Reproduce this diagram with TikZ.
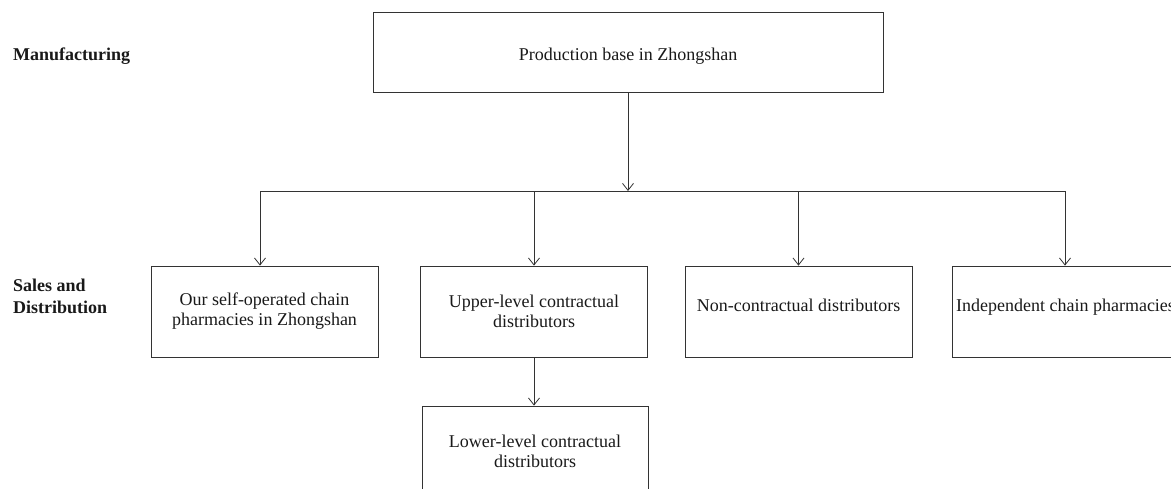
\documentclass[tikz,border=0pt]{standalone}
\usepackage{fontspec}
\setmainfont{Liberation Serif}
\usetikzlibrary{arrows.meta}
\begin{document}
\begin{tikzpicture}[x=1pt,y=-1pt,
  box/.style={draw=black!80, line width=0.8pt, minimum width=227pt, minimum height=91pt,
    inner sep=0pt, align=center, font=\fontsize{18}{20}\selectfont, text=black!90},
  lbl/.style={font=\fontsize{18}{22}\selectfont\bfseries, align=left, inner sep=0pt, text=black!90},
  arr/.style={draw=black!80, line width=0.8pt, -{Straight Barb[length=7pt,width=11pt]}},
  ln/.style={draw=black!80, line width=0.8pt}]
\useasboundingbox (0,0) rectangle (1171,488);
\clip (0,0) rectangle (1171,488);

\node[lbl, anchor=base west] (manu) at (13,60) {Manufacturing};
\node[lbl, anchor=north west] (sales) at (13,279) {Sales and\\Distribution};

\node[box, minimum width=510pt, minimum height=80pt, text height=20pt, text depth=4pt] (prod) at (628,52) {Production base in Zhongshan};

\node[box] (b1) at (264.5,311.5) {Our self-operated chain\\pharmacies in Zhongshan};
\node[box] (b2) at (534,311.5) {Upper-level contractual\\distributors};
\node[box, text height=6pt, text depth=6pt] (b3) at (798.5,311.5) {Non-contractual distributors};
\node[box, text height=6pt, text depth=6pt] (b4) at (1065.5,311.5) {Independent chain pharmacies};
\node[box, minimum width=226pt] (b5) at (535,451.5) {Lower-level contractual\\distributors};

\coordinate (j) at (628,191);
\coordinate (jl) at (260,191);
\coordinate (jr) at (1065,191);

\draw[arr] (prod.south) -- (j);
\draw[ln] (jl) -- (jr);
\draw[arr] (jl) -- (jl |- b1.north);
\draw[arr] (b2.north |- j) -- (b2.north);
\draw[arr] (b3.north |- j) -- (b3.north);
\draw[arr] (jr) -- (jr |- b4.north);
\draw[arr] (b2.south) -- (b2.south |- b5.north);
\end{tikzpicture}
\end{document}
